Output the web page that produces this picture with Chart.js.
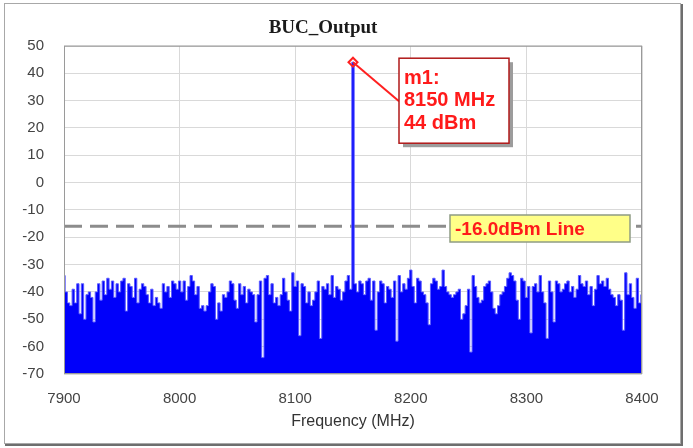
<!DOCTYPE html>
<html>
<head>
<meta charset="utf-8">
<script src="https://cdn.jsdelivr.net/npm/chart.js@4.4.1/dist/chart.umd.min.js"></script>
<style>
    body { margin: 0; background: #ffffff; }
    canvas { display: block; }
</style>
</head>
<body>
<canvas id="spectrum" width="693" height="448"></canvas>
<script>
const chartTitle = "BUC_Output";
const xAxisTitle = "Frequency (MHz)";

const freqStart = 7900;
const freqStep = 2;
const freqTicks = [7900, 8000, 8100, 8200, 8300, 8400];
const levelTicks = [-70, -60, -50, -40, -30, -20, -10, 0, 10, 20, 30, 40, 50];

// trace, one value every 2 MHz from 7900 to 8400
const powerDbm = [
    -34, -40, -44, -45, -39, -44, -37, -48, -37, -50,
    -41, -40, -42, -51, -40, -37, -43, -36, -41, -35,
    -39, -36, -42, -37, -40, -36, -35, -47, -37, -38,
    -42, -35, -44, -39, -37, -38, -41, -44, -39, -45,
    -42, -44, -46, -37, -40, -38, -42, -36, -37, -39,
    -36, -40, -36, -43, -38, -34, -36, -41, -38, -46,
    -45, -47, -45, -40, -37, -38, -50, -44, -47, -41,
    -42, -40, -36, -37, -43, -46, -37, -41, -38, -44,
    -39, -40, -41, -51, -41, -36, -64, -35, -34, -41,
    -37, -44, -42, -45, -41, -35, -40, -43, -47, -33,
    -38, -36, -56, -37, -38, -44, -40, -45, -43, -40,
    -36, -57, -38, -39, -37, -41, -34, -42, -38, -39,
    -43, -40, -36, -34, -39, 44, -37, -40, -36, -37,
    -41, -36, -35, -43, -36, -54, -40, -36, -37, -44,
    -38, -39, -42, -36, -58, -34, -40, -37, -39, -35,
    -32, -38, -44, -35, -36, -40, -41, -44, -52, -37,
    -35, -36, -39, -38, -32, -38, -40, -41, -42, -41,
    -40, -39, -50, -48, -45, -39, -62, -34, -38, -42,
    -44, -43, -38, -37, -36, -40, -46, -48, -45, -41,
    -40, -38, -35, -33, -34, -36, -43, -50, -35, -36,
    -42, -38, -55, -38, -37, -40, -34, -40, -44, -57,
    -36, -40, -51, -36, -37, -40, -39, -37, -36, -40,
    -38, -42, -39, -34, -37, -38, -36, -41, -38, -45,
    -39, -34, -37, -36, -38, -35, -39, -41, -42, -45,
    -41, -43, -54, -33, -41, -37, -42, -46, -35, -44,
    -41
];

const markerName = "m1";
const markerFreq = 8150;
const markerLevel = 44;
const refLevel = -16.0;
const refLabel = "-16.0dBm Line";

const points = powerDbm.map((v, i) => ({ x: freqStart + i * freqStep, y: v }));

const framePlugin = {
    id: "frame",
    beforeDraw(chart) {
        const ctx = chart.ctx;
        ctx.save();
        ctx.fillStyle = "#ffffff";
        ctx.fillRect(0, 0, chart.width, chart.height);
        ctx.strokeStyle = "#a8a8a8";
        ctx.lineWidth = 1;
        ctx.strokeRect(4.5, 3.5, 676, 440);
        ctx.strokeStyle = "#6e6e6e";
        ctx.lineWidth = 2;
        ctx.beginPath();
        ctx.moveTo(682, 4);
        ctx.lineTo(682, 445);
        ctx.lineTo(5, 445);
        ctx.stroke();
        ctx.restore();
    },
    beforeDatasetsDraw(chart) {
        const ctx = chart.ctx;
        const area = chart.chartArea;
        const yRef = chart.scales.y.getPixelForValue(refLevel);
        ctx.save();
        ctx.strokeStyle = "#8c8c8c";
        ctx.lineWidth = 3;
        ctx.setLineDash([18, 8]);
        ctx.beginPath();
        ctx.moveTo(area.left, yRef);
        ctx.lineTo(area.right, yRef);
        ctx.stroke();
        ctx.restore();
    },
    afterDatasetsDraw(chart) {
        const ctx = chart.ctx;
        const area = chart.chartArea;
        const xs = chart.scales.x;
        const ys = chart.scales.y;
        ctx.save();

        // plot box
        ctx.strokeStyle = "#9a9a9a";
        ctx.lineWidth = 1;
        ctx.strokeRect(area.left + 0.5, area.top + 0.5, area.right - area.left - 1, area.bottom - area.top - 1);

        // reference line label
        const yRef = ys.getPixelForValue(refLevel);
        const labW = 180, labH = 27;
        const labX = area.right - 12 - labW;
        const labY = Math.round(yRef) - 11;
        ctx.fillStyle = "#ffff88";
        ctx.fillRect(labX, labY, labW, labH);
        ctx.strokeStyle = "#8f9c84";
        ctx.lineWidth = 1.5;
        ctx.strokeRect(labX, labY, labW, labH);
        ctx.fillStyle = "#ff1a1a";
        ctx.font = "bold 19px 'Liberation Sans', Arial, sans-serif";
        ctx.textBaseline = "middle";
        ctx.fillText(refLabel, labX + 5, labY + labH / 2 + 1);

        // marker
        const mx = xs.getPixelForValue(markerFreq);
        const my = ys.getPixelForValue(markerLevel);
        const boxX = mx + 46, boxY = my - 4, boxW = 110, boxH = 85;
        ctx.strokeStyle = "#ff2020";
        ctx.lineWidth = 2;
        ctx.beginPath();
        ctx.moveTo(mx, my);
        ctx.lineTo(boxX, my + 39);
        ctx.stroke();
        ctx.beginPath();
        ctx.moveTo(mx, my - 4.5);
        ctx.lineTo(mx + 4.5, my);
        ctx.lineTo(mx, my + 4.5);
        ctx.lineTo(mx - 4.5, my);
        ctx.closePath();
        ctx.stroke();

        ctx.fillStyle = "#9c9c9c";
        ctx.fillRect(boxX + 4, boxY + 4, boxW, boxH);
        ctx.fillStyle = "#ffffff";
        ctx.fillRect(boxX, boxY, boxW, boxH);
        ctx.strokeStyle = "#b01818";
        ctx.lineWidth = 1.5;
        ctx.strokeRect(boxX, boxY, boxW, boxH);

        ctx.fillStyle = "#ff1a1a";
        ctx.font = "bold 20px 'Liberation Sans', Arial, sans-serif";
        ctx.textBaseline = "middle";
        const lines = [markerName + ":", markerFreq + " MHz", markerLevel + " dBm"];
        lines.forEach((t, i) => ctx.fillText(t, boxX + 5, boxY + 20 + i * 22.5));
        ctx.restore();
    }
};

new Chart(document.getElementById("spectrum"), {
    type: "line",
    data: {
        datasets: [{
            data: points,
            borderColor: "#5a5aff",
            borderWidth: 1,
            backgroundColor: "#0000fa",
            fill: "start",
            pointRadius: 0,
            stepped: "middle"
        }]
    },
    options: {
        responsive: false,
        animation: false,
        devicePixelRatio: 1,
        layout: { padding: { left: 4, right: 51, top: 0, bottom: 0 } },
        plugins: {
            legend: { display: false },
            tooltip: { enabled: false },
            title: {
                display: true,
                text: chartTitle,
                color: "#1a1a1a",
                font: { family: "'Liberation Serif', 'Times New Roman', serif", size: 19, weight: "bold" },
                padding: { top: 17, bottom: 6 }
            }
        },
        scales: {
            x: {
                type: "linear",
                min: freqTicks[0],
                max: freqTicks[freqTicks.length - 1],
                afterFit: (scale) => { scale.height = 74; },
                afterBuildTicks: (scale) => { scale.ticks = freqTicks.map(v => ({ value: v })); },
                ticks: {
                    color: "#444444",
                    padding: 16,
                    maxRotation: 0,
                    callback: (v) => String(v),
                    font: { family: "'Liberation Sans', Arial, sans-serif", size: 15 }
                },
                grid: { color: "#d9d9d9", drawTicks: false },
                border: { display: false },
                title: {
                    display: true,
                    text: xAxisTitle,
                    color: "#333333",
                    padding: { top: 0, bottom: 17 },
                    font: { family: "'Liberation Sans', Arial, sans-serif", size: 16 }
                }
            },
            y: {
                min: levelTicks[0],
                max: levelTicks[levelTicks.length - 1],
                afterFit: (scale) => { scale.width = 60; },
                afterBuildTicks: (scale) => { scale.ticks = levelTicks.map(v => ({ value: v })); },
                ticks: {
                    color: "#444444",
                    padding: 20,
                    callback: (v) => String(v),
                    font: { family: "'Liberation Sans', Arial, sans-serif", size: 15 }
                },
                grid: { color: "#d9d9d9", drawTicks: false },
                border: { display: false }
            }
        }
    },
    plugins: [framePlugin]
});
</script>
</body>
</html>
